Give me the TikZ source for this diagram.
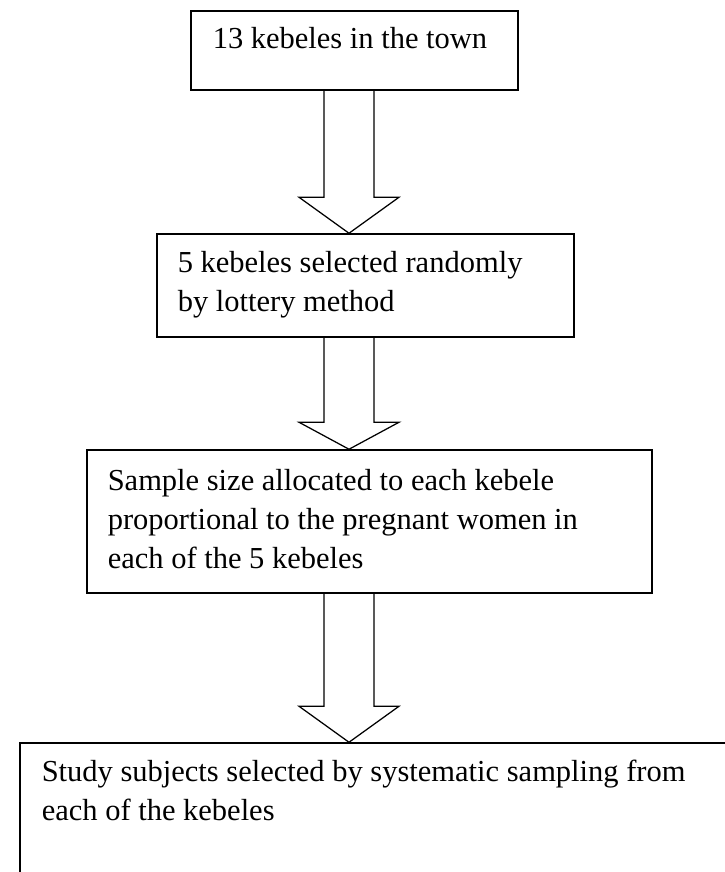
\documentclass[tikz,border=0pt]{standalone}
\usepackage{fontspec}
\setmainfont{Liberation Serif}
\usetikzlibrary{calc,fit}

\tikzset{
  flowbox/.style={draw,line width=0.6pt,inner sep=0pt},
  flowtext/.style={anchor=base west,align=left,inner sep=0pt,font=\fontsize{12.2}{15.6}\selectfont},
  arrowline/.style={line width=0.5pt,line join=miter}
}
\newcommand{\blockarrow}[3]{%
  \draw[arrowline] ($(#1.south -| ax)+(-25,0)$) -- ($(#2.north -| ax)+(-25,#3)$)
    -- ($(#2.north -| ax)+(-50,#3)$) -- (#2.north -| ax) -- ($(#2.north -| ax)+(50,#3)$)
    -- ($(#2.north -| ax)+(25,#3)$) -- ($(#1.south -| ax)+(25,0)$);}

\begin{document}
\begin{tikzpicture}[x=0.4pt,y=0.4pt]
  \clip (0,0) rectangle (725,-872);
  \coordinate (ax) at (349,0);
  \node[flowbox,fit={(191,-11) (518,-90)}] (box1) {};
  \node[flowbox,fit={(157,-234) (574,-337)}] (box2) {};
  \node[flowbox,fit={(87,-450) (652,-593)}] (box3) {};
  \node[flowbox,fit={(20,-743) (760,-900)}] (box4) {};
  % base anchor sits on the last line
  \node[flowtext] (txt1) at ($(box1.north west)+(22,-38)$) {13 kebeles in the town};
  \node[flowtext] (txt2) at ($(box2.north west)+(21,-78)$) {5 kebeles selected randomly\\by lottery method};
  \node[flowtext] (txt3) at ($(box3.north west)+(21,-119)$) {Sample size allocated to each kebele\\proportional to the pregnant women in\\each of the 5 kebeles};
  \node[flowtext] (txt4) at ($(box4.north west)+(22,-78)$) {Study subjects selected by systematic sampling from\\each of the kebeles};
  \blockarrow{box1}{box2}{36}
  \blockarrow{box2}{box3}{27}
  \blockarrow{box3}{box4}{36}
\end{tikzpicture}
\end{document}
